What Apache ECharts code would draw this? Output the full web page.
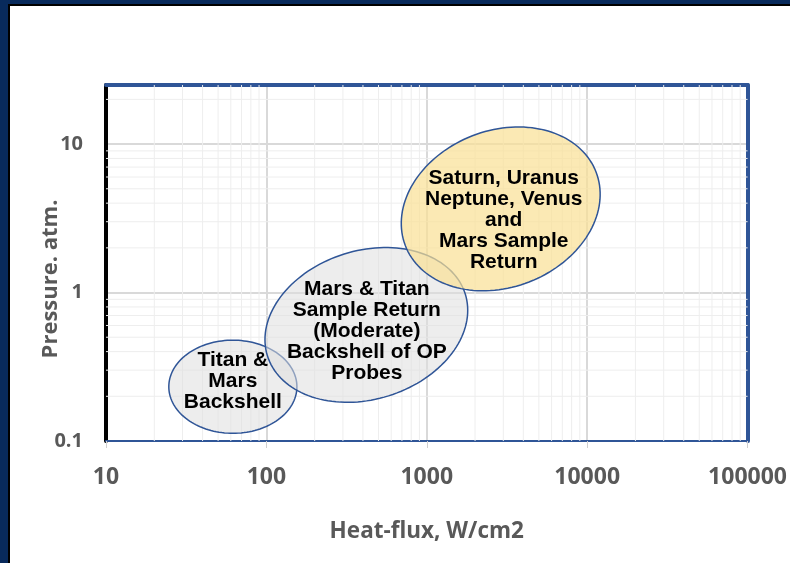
<!DOCTYPE html>
<html>
<head>
<meta charset="utf-8">
<script src="https://cdn.jsdelivr.net/npm/echarts@6/dist/echarts.min.js"></script>
<style>
html,body{margin:0;padding:0;background:#fff;}
#main{width:790px;height:563px;}
</style>
</head>
<body>
<div id="main"></div>
<script>
// axis ranges and ticks
var xRange = [10, 100000];
var yRange = [0.1, 25];
var xMinorTicks = [20,30,40,50,60,70,80,90, 200,300,400,500,600,700,800,900,
  2000,3000,4000,5000,6000,7000,8000,9000, 20000,30000,40000,50000,60000,70000,80000,90000];
var yMinorTicks = [0.2,0.3,0.4,0.5,0.6,0.7,0.8,0.9, 2,3,4,5,6,7,8,9, 20];

// regions (heat-flux W/cm2, pressure atm)
var regionNames = [
  'Titan &\nMars\nBackshell',
  'Mars & Titan\nSample Return\n(Moderate)\nBackshell of OP\nProbes',
  'Saturn, Uranus\nNeptune, Venus\nand\nMars Sample\nReturn'
];
var regionCenters = [[61.8, 0.232], [420, 0.605], [2891, 3.66]];
var regionAxisEnds = [[155, 0.232], [1738, 0.977], [11360, 6.49]];
var regionWidthRatio = [0.727, 0.717, 0.767];
var labelPoints = [[61.8, 0.253], [423, 0.547], [3020, 3.09]];

var regionFills = ['rgba(222,222,222,0.55)', 'rgba(222,222,222,0.55)', 'rgba(249,224,148,0.7)'];

var myChart = echarts.init(document.getElementById('main'));

function fmt(v){ return String(+(+v).toPrecision(6)); }

function renderRegion(params, api){
  var i = params.dataIndex;
  var c = api.coord([api.value(0), api.value(1)]);
  var t = api.coord(regionAxisEnds[i]);
  var dx = t[0] - c[0], dy = t[1] - c[1];
  var a = Math.sqrt(dx*dx + dy*dy);
  var b = a * regionWidthRatio[i];
  var ang = Math.atan2(dy, dx);
  var pts = [];
  for (var k = 0; k < 144; k++) {
    var s = k / 144 * 2 * Math.PI;
    var ex = a * Math.cos(s), ey = b * Math.sin(s);
    pts.push([c[0] + ex*Math.cos(ang) - ey*Math.sin(ang), c[1] + ex*Math.sin(ang) + ey*Math.cos(ang)]);
  }
  var lp = api.coord(labelPoints[i]);
  return {
    type: 'group',
    children: [
      {type: 'polygon', shape: {points: pts}, style: {fill: regionFills[i], stroke: '#2f5597', lineWidth: 1.5}},
      {type: 'text', x: lp[0], y: lp[1], style: {
        text: regionNames[i], fill: '#000', align: 'center', verticalAlign: 'middle',
        font: 'bold 21px "Liberation Sans", Arial', lineHeight: 21
      }}
    ]
  };
}

function renderVGrid(params, api){
  var p = api.coord([api.value(0), 1]);
  var cs = params.coordSys;
  return {type: 'line', shape: {x1: p[0], y1: cs.y, x2: p[0], y2: cs.y + cs.height},
    style: {stroke: '#eeeeee', lineWidth: 1}};
}
function renderHGrid(params, api){
  var p = api.coord([10, api.value(0)]);
  var cs = params.coordSys;
  return {type: 'line', shape: {x1: cs.x, y1: p[1], x2: cs.x + cs.width, y2: p[1]},
    style: {stroke: '#eeeeee', lineWidth: 1}};
}

var labelFont = {color: '#595959', fontFamily: '"Open Sans"', fontWeight: 'bold'};

var option = {
  animation: false,
  backgroundColor: '#fff',
  graphic: [
    {type: 'rect', shape: {x: 0, y: 0, width: 8, height: 563}, style: {fill: '#082a5c'}, z: 100},
    {type: 'rect', shape: {x: 0, y: 0, width: 790, height: 4}, style: {fill: '#082a5c'}, z: 100},
    {type: 'rect', shape: {x: 8, y: 4, width: 2, height: 559}, style: {fill: '#000'}, z: 100},
    {type: 'rect', shape: {x: 8, y: 4, width: 782, height: 2}, style: {fill: '#000'}, z: 100}
  ],
  grid: {left: 106, right: 42, top: 85, bottom: 122},
  xAxis: [{
    type: 'log', logBase: 10, min: xRange[0], max: xRange[1], position: 'bottom',
    axisLine: {lineStyle: {color: '#2f5597', width: 2}},
    axisTick: {show: true, length: 7, lineStyle: {color: '#d0d0d0', width: 1}},
    axisLabel: Object.assign({fontSize: 23, margin: 25, formatter: fmt}, labelFont),
    splitLine: {show: true, lineStyle: {color: '#d9d9d9', width: 2}},
    name: 'Heat-flux, W/cm2', nameLocation: 'middle', nameGap: 79, nameMoveOverlap: false,
    nameTextStyle: Object.assign({fontSize: 22.5}, labelFont)
  }, {
    type: 'log', logBase: 10, min: xRange[0], max: xRange[1], position: 'top',
    axisLine: {lineStyle: {color: '#2f5597', width: 4}},
    axisTick: {show: false}, axisLabel: {show: false}, splitLine: {show: false}
  }],
  yAxis: [{
    type: 'log', logBase: 10, min: yRange[0], max: yRange[1], position: 'left',
    axisLine: {show: true, lineStyle: {color: '#000', width: 4}},
    axisTick: {show: false},
    axisLabel: Object.assign({fontSize: 20, margin: 23, formatter: fmt, showMaxLabel: false}, labelFont),
    splitLine: {show: true, lineStyle: {color: '#d9d9d9', width: 2}},
    name: 'Pressure. atm.', nameLocation: 'middle', nameGap: 44, nameMoveOverlap: false,
    nameTextStyle: Object.assign({fontSize: 22, padding: [0, 32, 0, 0]}, labelFont)
  }, {
    type: 'log', logBase: 10, min: yRange[0], max: yRange[1], position: 'right',
    axisLine: {show: true, lineStyle: {color: '#2f5597', width: 4}},
    axisTick: {show: false}, axisLabel: {show: false}, splitLine: {show: false}
  }],
  series: [{
    type: 'custom', name: 'xMinor', silent: true, z: 1,
    renderItem: renderVGrid, data: xMinorTicks.map(function(v){ return [v]; }),
    encode: {x: 0}
  }, {
    type: 'custom', name: 'yMinor', silent: true, z: 1,
    renderItem: renderHGrid, data: yMinorTicks.map(function(v){ return [v]; }),
    encode: {y: 0}
  }, {
    type: 'custom', name: 'regions', z: 3,
    renderItem: renderRegion,
    data: regionCenters.map(function(c){ return [c[0], c[1]]; }),
    encode: {x: 0, y: 1}
  }]
};
myChart.setOption(option);
</script>
</body>
</html>
